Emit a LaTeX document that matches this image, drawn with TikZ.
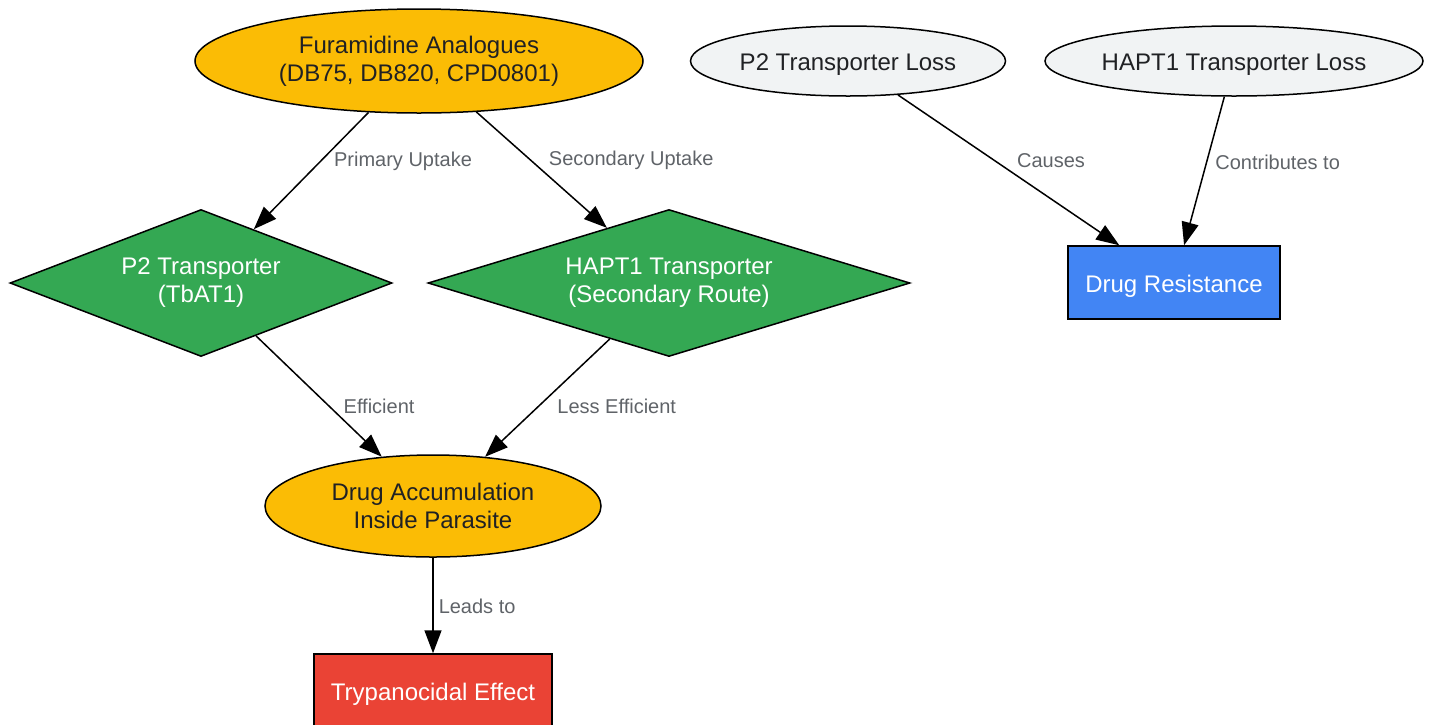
\documentclass[tikz,border=0pt]{standalone}
\usepackage{fontspec}
\setmainfont{Liberation Sans}
\usetikzlibrary{shapes.geometric,arrows.meta}
\definecolor{gyellow}{HTML}{FBBC05}
\definecolor{ggreen}{HTML}{34A853}
\definecolor{gblue}{HTML}{4285F4}
\definecolor{gred}{HTML}{EA4335}
\definecolor{ggrey}{HTML}{F1F3F4}
\definecolor{gdark}{HTML}{202124}
\definecolor{glabel}{HTML}{5F6368}
\newcommand\boxfont{\fontsize{12}{14}\selectfont}
\newcommand\edgefont{\fontsize{10}{12}\selectfont}
\tikzstyle{lowered} = [execute at begin node={\rule{0pt}{12pt}}]
\tikzstyle{oval} = [ellipse, draw, line width=0.75pt, inner sep=0pt,
    align=center, text=gdark, font=\boxfont, lowered]
\tikzstyle{decision} = [diamond, draw, fill=ggreen, line width=0.75pt,
    inner sep=0pt, shape aspect=2.6, minimum height=73.5pt, align=center,
    text=white, font=\boxfont, lowered]
\tikzstyle{block} = [rectangle, draw, line width=0.75pt, minimum height=36.5pt,
    text=white, font=\boxfont, lowered]
\tikzstyle{line} = [draw, line width=0.75pt, -{Triangle[length=11.5pt,width=8.5pt]}]
\tikzstyle{lbl} = [font=\edgefont, text=glabel, inner sep=0pt, anchor=west]

\begin{document}
\begin{tikzpicture}[x=0.5pt, y=-0.5pt]
		\useasboundingbox (0,0) rectangle (1433,724);
		\node [oval, fill=gyellow, minimum width=224pt, minimum height=52pt] (fur) at (419,61) {Furamidine Analogues\\(DB75, DB820, CPD0801)};
		\node [oval, fill=ggrey, minimum width=157.5pt, minimum height=35pt] (p2loss) at (848,61) {P2 Transporter Loss};
		\node [oval, fill=ggrey, minimum width=189pt, minimum height=35pt] (haptloss) at (1234,61) {HAPT1 Transporter Loss};
		\node [decision, minimum width=191pt] (p2) at (201,283) {P2 Transporter\\(TbAT1)};
		\node [decision, minimum width=241pt] (hapt) at (669,283) {HAPT1 Transporter\\(Secondary Route)};
		\node [block, fill=gblue, minimum width=106pt] (res) at (1174,282.5) {Drug Resistance};
		\node [oval, fill=gyellow, minimum width=168pt, minimum height=51pt] (accum) at (433,506) {Drug Accumulation\\Inside Parasite};
		\node [block, fill=gred, minimum width=119pt] (effect) at (433,690.5) {Trypanocidal Effect};
		
		\path [line] (fur) edge node [lbl, pos=0.42, xshift=6.5pt] {Primary Uptake} (p2);
		\path [line] (fur) edge node [lbl, pos=0.42, xshift=8.5pt] {Secondary Uptake} (hapt);
		\path [line] (p2loss) edge node [lbl, pos=0.44, xshift=10.5pt] {Causes} (res);
		\path [line] (haptloss) edge node [lbl, pos=0.44, xshift=4pt] {Contributes to} (res);
		\path [line] (p2) edge node [lbl, pos=0.58, xshift=7pt] {Efficient} (accum);
		\path [line] (hapt) edge node [lbl, pos=0.57, xshift=9pt] {Less Efficient} (accum);
		\path [line] (accum) edge node [lbl, pos=0.51, xshift=2.5pt] {Leads to} (effect);
	\end{tikzpicture}
\end{document}
